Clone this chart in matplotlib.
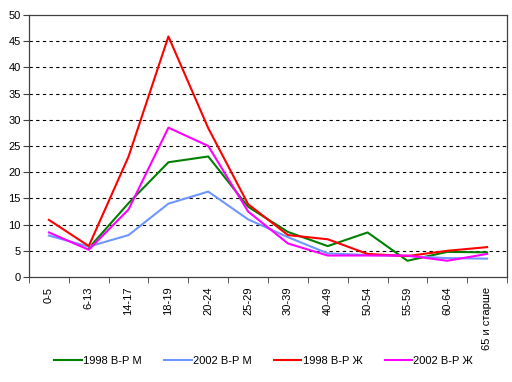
import numpy as np
import matplotlib
matplotlib.use('Agg')
import matplotlib.pyplot as plt

plt.rcParams['font.family'] = ['Liberation Sans', 'DejaVu Sans']

ages = ['0-5', '6-13', '14-17', '18-19', '20-24', '25-29', '30-39',
        '40-49', '50-54', '55-59', '60-64', '65 и старше']

m_1998 = [np.nan, 5.5, 14.1, 21.9, 23.0, 13.4, 8.6, 5.9, 8.5, 3.1, 4.8, 4.7]
m_2002 = [7.9, 5.8, 8.0, 14.0, 16.3, 11.0, 7.6, 4.5, 4.2, 4.0, 3.6, 3.5]
f_1998 = [10.9, 5.9, 23.0, 45.9, 28.4, 13.9, 8.0, 7.2, 4.4, 4.0, 5.0, 5.7]
f_2002 = [8.5, 5.2, 12.9, 28.5, 25.0, 12.5, 6.4, 4.1, 4.1, 4.1, 3.1, 4.4]

series = [
    ('1998 В-Р М', m_1998, '#008000'),
    ('2002 В-Р М', m_2002, '#6f95ff'),
    ('1998 В-Р Ж', f_1998, '#ff0000'),
    ('2002 В-Р Ж', f_2002, '#ff00ff'),
]

fig = plt.figure(figsize=(5.12, 3.82), dpi=100)
ax = fig.add_axes([29 / 512, 1 - 277 / 382, 478 / 512, 262 / 382])

x = np.arange(len(ages))
for name, vals, col in series:
    ax.plot(x, vals, color=col, lw=1.5, label=name)

ax.set_xlim(-0.5, len(ages) - 0.5)
ax.set_ylim(0, 50)
ax.set_yticks(np.arange(0, 51, 5))
for yv in range(5, 50, 5):
    ax.axhline(yv, color='black', lw=0.8, ls=(0, (3, 3)), zorder=0)

ax.set_xticks(x)
ax.set_xticklabels(ages, rotation=90, fontsize=8)
ax.set_xticks(np.arange(-0.5, len(ages), 1), minor=True)
ax.tick_params(axis='x', which='major', length=0, pad=7)
ax.tick_params(axis='x', which='minor', length=4, color='#404040')
ax.tick_params(axis='y', labelsize=8, length=4, pad=2, color='#404040')

for s in ax.spines.values():
    s.set_color('#404040')
    s.set_linewidth(0.9)

fig.legend(loc='center', bbox_to_anchor=(0.515, 1 - 361 / 382), ncol=4,
           frameon=False, fontsize=8, handlelength=2.5, handletextpad=0.1,
           columnspacing=2.0)

fig.savefig('out.png', dpi=100)
